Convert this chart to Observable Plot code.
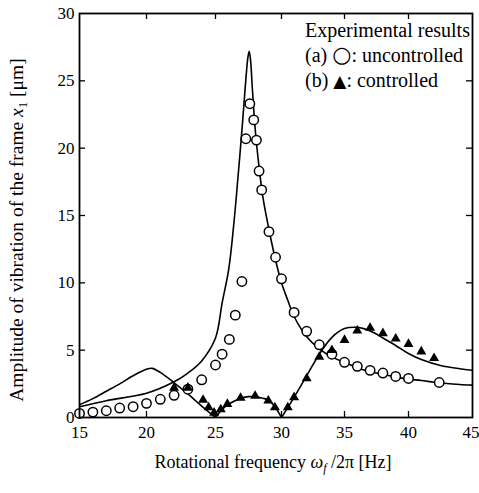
<!DOCTYPE html>
<html>
<head>
<meta charset="utf-8">
<script src="https://cdn.jsdelivr.net/npm/d3@7"></script>
<script src="https://cdn.jsdelivr.net/npm/@observablehq/plot@0.6"></script>
<style>
  html, body { margin: 0; padding: 0; background: #fff; }
  #chart { width: 479px; height: 493px; }
</style>
</head>
<body>
<div id="chart"></div>
<script>
// Experimental results (a): uncontrolled (open circles)
const uncFreq = [15,16,17,18,19,20,21,22,23,24,25,25.5,26.05,26.5,27.0,27.3,27.6,27.9,28.1,28.3,28.5,29.05,29.55,30.0,31,32,33,34,35,36,37,38,39,40,42.4];
const uncAmp  = [0.3,0.4,0.5,0.7,0.8,1.05,1.35,1.65,2.1,2.8,3.9,4.7,5.8,7.6,10.1,20.7,23.3,22.1,20.6,18.3,16.9,13.8,11.9,10.3,7.8,6.4,5.4,4.7,4.1,3.8,3.5,3.3,3.05,2.9,2.6];

// Experimental results (b): controlled (filled triangles)
const conFreq = [22,23,24.1,24.5,24.9,25.4,25.9,26.9,28.0,29.0,29.5,30.5,31.0,32.0,33.0,34.0,35.0,36.0,37.0,38.0,39.0,40.0,41.0,42.0];
const conAmp  = [2.2,2.2,1.3,0.75,0.35,0.6,1.0,1.45,1.6,1.25,0.75,0.75,1.5,2.9,4.5,5.0,5.75,6.45,6.65,6.25,5.85,5.45,4.9,4.4];

// Theoretical curve, uncontrolled
const thUncFreq = [15,17,20,22,23,24,25,25.5,26,26.4,26.7,27,27.25,27.45,27.55,27.65,27.8,28,28.3,28.6,29,29.5,30,30.5,31,32,33,34,35,36,37,38,39,40,41,42,43,44,45];
const thUncAmp  = [0.8,1.25,1.8,2.65,3.3,4.2,5.9,8.5,11,14.5,17.8,21.3,24.5,26.7,27.2,26.6,24.3,21.5,18.6,16.3,14.2,11.9,10.0,8.7,7.5,6.0,5.1,4.5,4.1,3.7,3.4,3.2,3.0,2.85,2.75,2.62,2.52,2.45,2.4];

// Theoretical curve, controlled (three branches between the zeros at 25 and 30 Hz)
const thCon1Freq = [15,16,17,18,19,20,20.4,21,22,23,24,25];
const thCon1Amp  = [0.95,1.4,1.95,2.5,3.1,3.58,3.65,3.35,2.58,1.75,0.85,0];
const thCon2Freq = [25,25.5,26,27,27.5,28,28.5,29,29.5,30];
const thCon2Amp  = [0,0.6,1.0,1.45,1.55,1.55,1.45,1.3,0.8,0];
const thCon3Freq = [30,31,32,33,34,35,35.8,36.5,37.3,38,39,40,41,42.5,44,45];
const thCon3Amp  = [0,1.5,3.1,4.7,5.95,6.6,6.7,6.6,6.3,5.9,5.35,4.75,4.3,3.86,3.62,3.5];

// Axis ticks
const xTicks = [15,20,25,30,35,40,45];
const yTicks = [0,5,10,15,20,25,30];
const xInner = [20,25,30,35,40];
const yInner = [5,10,15,20,25];
// Pixel position of each x tick in the (slightly uneven) scanned axis
const xTickPx = [79,146,215,281,344,408,472];

const zip = (fs, vs) => fs.map((f, i) => ({f, v: vs[i]}));
const unc = zip(uncFreq, uncAmp);
const con = zip(conFreq, conAmp);
const thUnc = zip(thUncFreq, thUncAmp);
const thCon = [
  ...zip(thCon1Freq, thCon1Amp).map(d => ({...d, seg: 1})),
  ...zip(thCon2Freq, thCon2Amp).map(d => ({...d, seg: 2})),
  ...zip(thCon3Freq, thCon3Amp).map(d => ({...d, seg: 3}))
];

const W = 479, H = 493;
const mL = 79, mR = 7, mT = 13, mB = 76;
const innerW = W - mL - mR, innerH = H - mT - mB;
const tick = 6;
const serif = "Liberation Serif, Times New Roman, serif";

const chart = Plot.plot({
  width: W, height: H,
  marginLeft: mL, marginRight: mR, marginTop: mT, marginBottom: mB,
  x: {domain: xTicks, range: xTickPx, type: "linear"},
  y: {domain: [0, 30]},
  style: {fontFamily: serif, fontSize: "17px", color: "#000", background: "#fff"},
  marks: [
    Plot.axisX(xTicks.slice(0, -1), {tickSize: 0, tickPadding: 8, label: null, fontSize: 17}),
    Plot.axisX(xTicks.slice(-1), {tickSize: 0, tickPadding: 8, label: null, fontSize: 17, textAnchor: "end", dx: 7}),
    Plot.axisY(yTicks, {tickSize: 0, tickPadding: 5, label: null, fontSize: 17}),
    Plot.tickX(xInner, {x: d => d, insetTop: innerH - tick, stroke: "#000", strokeWidth: 1.3}),
    Plot.tickX(xInner, {x: d => d, insetBottom: innerH - tick, stroke: "#000", strokeWidth: 1.3}),
    Plot.tickY(yInner, {y: d => d, insetRight: innerW - tick, stroke: "#000", strokeWidth: 1.3}),
    Plot.tickY(yInner, {y: d => d, insetLeft: innerW - tick, stroke: "#000", strokeWidth: 1.3}),
    Plot.line(thUnc, {x: "f", y: "v", curve: "catmull-rom", stroke: "#000", strokeWidth: 1.6, clip: true}),
    Plot.line(thCon, {x: "f", y: "v", z: "seg", curve: "catmull-rom", stroke: "#000", strokeWidth: 1.6, clip: true}),
    Plot.dot(unc, {x: "f", y: "v", r: 4.7, stroke: "#000", fill: "#fff", strokeWidth: 1.5}),
    Plot.dot(con, {x: "f", y: "v", symbol: "triangle", r: 3.7, fill: "#000", stroke: "none"}),
    Plot.frame({stroke: "#000", strokeWidth: 1.8})
  ]
});

const svg = d3.select(chart);

// Legend
const leg = svg.append("g").attr("font-family", serif).attr("font-size", 20)
  .attr("fill", "#000").attr("text-anchor", "start");
leg.append("text").attr("x", 305).attr("y", 37).text("Experimental results");
const la = leg.append("text").attr("x", 305).attr("y", 62);
la.append("tspan").text("(a) ");
la.append("tspan").attr("font-size", 22).attr("font-family", "DejaVu Sans").text("\u25CB");
la.append("tspan").text(": uncontrolled");
const lb = leg.append("text").attr("x", 305).attr("y", 87);
lb.append("tspan").text("(b) ");
lb.append("tspan").attr("font-size", 17).attr("font-family", "DejaVu Sans").text("\u25B2");
lb.append("tspan").text(": controlled");

// X axis label
const xl = svg.append("text").attr("font-family", serif).attr("font-size", 18)
  .attr("x", 273).attr("y", 468).attr("text-anchor", "middle").attr("fill", "#000");
xl.append("tspan").text("Rotational frequency ");
xl.append("tspan").attr("font-style", "italic").text("\u03C9");
xl.append("tspan").attr("font-style", "italic").attr("font-size", 12).attr("dy", 4).text("f");
xl.append("tspan").attr("dy", -4).text(" /2\u03C0 [Hz]");

// Y axis label
const yl = svg.append("text").attr("font-family", serif).attr("font-size", 19.5)
  .attr("transform", "translate(23,230) rotate(-90)").attr("text-anchor", "middle").attr("fill", "#000");
yl.append("tspan").text("Amplitude of vibration of the frame ");
yl.append("tspan").attr("font-style", "italic").text("x");
yl.append("tspan").attr("font-size", 13).attr("dy", 4).text("1");
yl.append("tspan").attr("dy", -4).text(" [\u03BCm]");

document.getElementById("chart").appendChild(chart);
</script>
</body>
</html>
